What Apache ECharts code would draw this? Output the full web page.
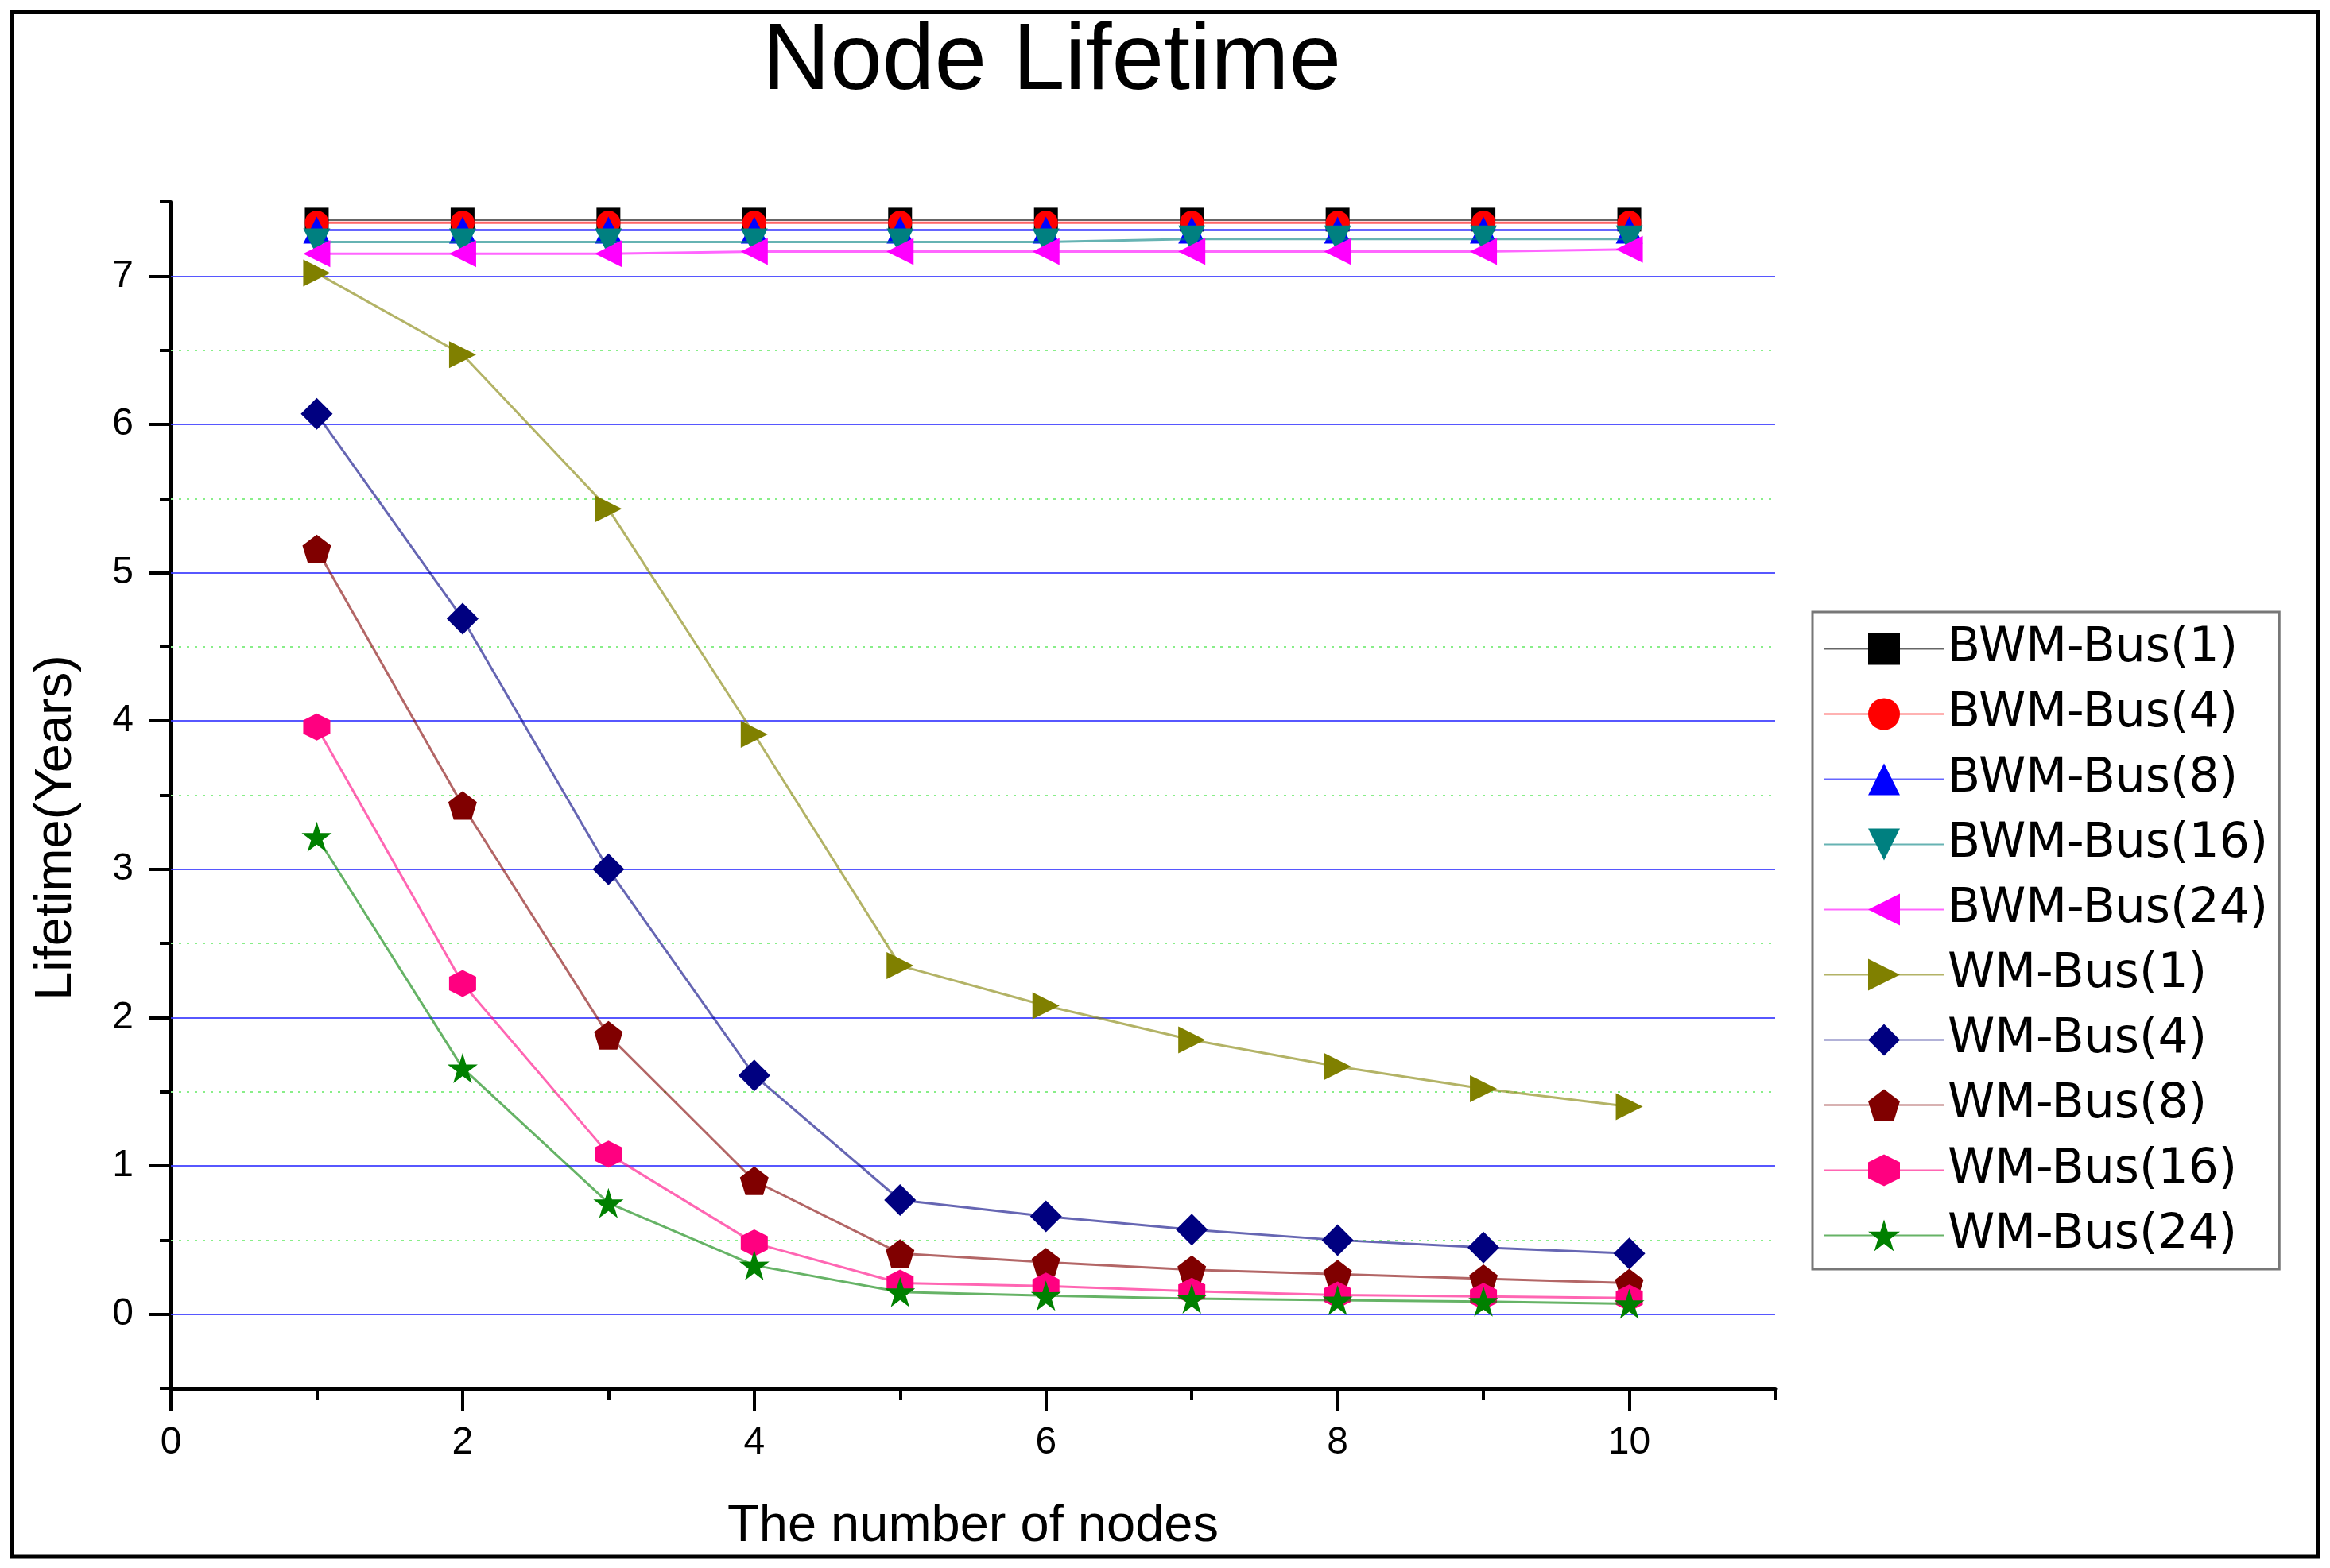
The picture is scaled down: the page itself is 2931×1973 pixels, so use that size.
<!DOCTYPE html>
<html>
<head>
<meta charset="utf-8">
<script src="https://cdn.jsdelivr.net/npm/echarts@6/dist/echarts.min.js"></script>
<style>html,body{margin:0;padding:0;background:#fff;}#chart{width:2931px;height:1973px;}</style>
</head>
<body>
<div id="chart"></div>
<script>
// ---- data ----
var nodes = [1, 2, 3, 4, 5, 6, 7, 8, 9, 10];
var seriesNames = ['BWM-Bus(1)', 'BWM-Bus(4)', 'BWM-Bus(8)', 'BWM-Bus(16)', 'BWM-Bus(24)',
                   'WM-Bus(1)', 'WM-Bus(4)', 'WM-Bus(8)', 'WM-Bus(16)', 'WM-Bus(24)'];
var bwm1  = [7.38, 7.38, 7.38, 7.38, 7.38, 7.38, 7.38, 7.38, 7.38, 7.38];
var bwm4  = [7.36, 7.36, 7.36, 7.36, 7.36, 7.36, 7.36, 7.36, 7.36, 7.36];
var bwm8  = [7.31, 7.31, 7.31, 7.31, 7.31, 7.31, 7.31, 7.31, 7.31, 7.31];
var bwm16 = [7.23, 7.23, 7.23, 7.23, 7.23, 7.23, 7.25, 7.25, 7.25, 7.25];
var bwm24 = [7.15, 7.15, 7.15, 7.165, 7.165, 7.165, 7.165, 7.165, 7.165, 7.18];
var wm1   = [7.02, 6.47, 5.43, 3.91, 2.35, 2.08, 1.85, 1.67, 1.52, 1.40];
var wm4   = [6.07, 4.69, 3.00, 1.61, 0.77, 0.66, 0.57, 0.50, 0.45, 0.41];
var wm8   = [5.16, 3.43, 1.88, 0.90, 0.41, 0.35, 0.30, 0.27, 0.24, 0.21];
var wm16  = [3.96, 2.23, 1.08, 0.48, 0.21, 0.19, 0.155, 0.13, 0.12, 0.11];
var wm24  = [3.22, 1.66, 0.75, 0.33, 0.15, 0.125, 0.105, 0.095, 0.085, 0.07];
var seriesValues = [bwm1, bwm4, bwm8, bwm16, bwm24, wm1, wm4, wm8, wm16, wm24];

var xMajorTicks = [0, 2, 4, 6, 8, 10];
var xMinorTicks = [1, 3, 5, 7, 9, 11];
var yMajorTicks = [0, 1, 2, 3, 4, 5, 6, 7];
var yMinorTicks = [-0.5, 0.5, 1.5, 2.5, 3.5, 4.5, 5.5, 6.5, 7.5];
var majorGridValues = [0, 1, 2, 3, 4, 5, 6, 7];
var minorGridValues = [0.5, 1.5, 2.5, 3.5, 4.5, 5.5, 6.5];

// ---- styles ----
var PENTAGON = 'path://M0,-1L0.951,-0.309L0.588,0.809L-0.588,0.809L-0.951,-0.309Z';
var HEXAGON = 'path://M0,-1L0.866,-0.5L0.866,0.5L0,1L-0.866,0.5L-0.866,-0.5Z';
var STAR = 'path://M0,-1L0.2234,-0.3074L0.9511,-0.309L0.3614,0.1174L0.5878,0.809L0,0.38L-0.5878,0.809L-0.3614,0.1174L-0.9511,-0.309L-0.2234,-0.3074Z';
var colors = ['#000000', '#ff0000', '#0000ff', '#008080', '#ff00ff',
              '#808000', '#000080', '#800000', '#ff0080', '#008000'];
var symbols = ['rect', 'circle', 'triangle', 'triangle', 'triangle',
               'triangle', 'diamond', PENTAGON, HEXAGON, STAR];
var rotates = [0, 0, 0, 180, 90, -90, 0, 0, 0, 0];
var sizes = [30, 30, 34, 34, 34, 34, 40, 36, 34, 38];

var FONT = 'Liberation Sans, Arial, sans-serif';

var series = [];
series.push({
  name: '_grid', type: 'line', data: [], z: 1, silent: true,
  xAxisIndex: 0, yAxisIndex: 0,
  markLine: {
    silent: true, symbol: ['none', 'none'], label: { show: false }, animation: false,
    data: majorGridValues.map(function (v) {
      return { yAxis: v, lineStyle: { color: '#3a3aff', width: 2, type: 'solid', opacity: 0.85 } };
    }).concat(minorGridValues.map(function (v) {
      return { yAxis: v, lineStyle: { color: '#88ee88', width: 2, type: [3, 7], opacity: 1 } };
    }))
  }
});
seriesNames.forEach(function (name, i) {
  series.push({
    name: name, type: 'line', z: 3 + i,
    xAxisIndex: 0, yAxisIndex: 0,
    data: nodes.map(function (x, j) { return [x, seriesValues[i][j]]; }),
    symbol: symbols[i], symbolSize: sizes[i], symbolRotate: rotates[i],
    showAllSymbol: true,
    itemStyle: { color: colors[i], opacity: 1 },
    lineStyle: { color: colors[i], width: 3, opacity: 0.6 },
    emphasis: { disabled: true },
    clip: false
  });
});

var chart = echarts.init(document.getElementById('chart'), null, { renderer: 'canvas' });
chart.setOption({
  animation: false,
  backgroundColor: '#ffffff',
  title: {
    text: 'Node Lifetime', left: 959, top: 20, padding: 0,
    textStyle: { fontFamily: FONT, fontSize: 118, fontWeight: 'normal', color: '#000', lineHeight: 118 }
  },
  grid: { left: 215, right: 698, top: 254, bottom: 226, containLabel: false, outerBoundsMode: 'none' },
  legend: {
    orient: 'vertical', left: 2280, top: 770,
    data: seriesNames,
    itemWidth: 150, itemHeight: 50, itemGap: 21,
    padding: [16, 14, 12, 14],
    borderColor: '#777', borderWidth: 3, backgroundColor: '#fff',
    textStyle: { fontFamily: 'DejaVu Sans, sans-serif', fontSize: 60, color: '#000', lineHeight: 61 },
    selectedMode: false
  },
  xAxis: [{
    type: 'value', position: 'bottom', min: 0, max: 11, interval: 1,
    name: 'The number of nodes', nameLocation: 'middle', nameGap: 174,
    nameTextStyle: { fontFamily: FONT, fontSize: 65, color: '#000', verticalAlign: 'middle' },
    axisLine: { show: true, onZero: false, lineStyle: { color: '#000', width: 5 } },
    axisTick: { show: true, inside: false, customValues: xMajorTicks, length: 28, lineStyle: { color: '#000', width: 4 } },
    axisLabel: { show: true, customValues: xMajorTicks, margin: 45, fontFamily: FONT, fontSize: 48, color: '#000' },
    splitLine: { show: false }
  }, {
    type: 'value', position: 'bottom', min: 0, max: 11, interval: 1,
    axisLine: { show: false, onZero: false },
    axisTick: { show: true, inside: false, customValues: xMinorTicks, length: 15, lineStyle: { color: '#000', width: 4 } },
    axisLabel: { show: false },
    splitLine: { show: false }
  }],
  yAxis: [{
    type: 'value', position: 'left', min: -0.5, max: 7.5, interval: 0.5,
    name: 'Lifetime(Years)', nameLocation: 'middle', nameGap: 144,
    nameTextStyle: { fontFamily: FONT, fontSize: 65, color: '#000', verticalAlign: 'middle', padding: [0, 82, 0, 0] },
    axisLine: { show: true, onZero: false, lineStyle: { color: '#000', width: 4 } },
    axisTick: { show: true, inside: false, customValues: yMajorTicks, length: 27, lineStyle: { color: '#000', width: 4 } },
    axisLabel: { show: true, customValues: yMajorTicks, margin: 47, fontFamily: FONT, fontSize: 48, color: '#000' },
    splitLine: { show: false }
  }, {
    type: 'value', position: 'left', min: -0.5, max: 7.5, interval: 0.5,
    axisLine: { show: false, onZero: false },
    axisTick: { show: true, inside: false, customValues: yMinorTicks, length: 14, lineStyle: { color: '#000', width: 4 } },
    axisLabel: { show: false },
    splitLine: { show: false }
  }],
  graphic: [{
    type: 'rect', z: 100, silent: true,
    shape: { x: 15, y: 15, width: 2901, height: 1944 },
    style: { fill: 'none', stroke: '#000', lineWidth: 5 }
  }],
  series: series
});
</script>
</body>
</html>
